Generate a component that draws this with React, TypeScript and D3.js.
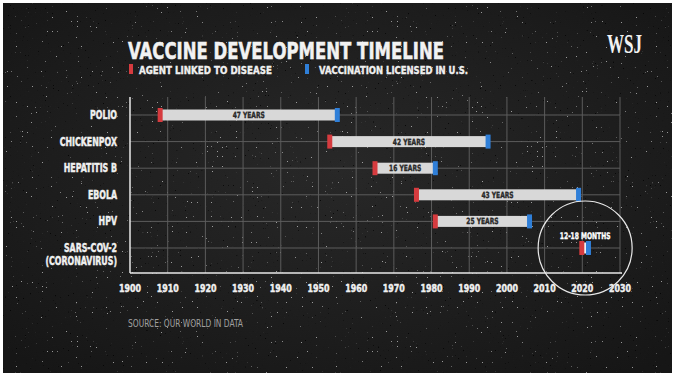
import React from "react";
import * as d3 from "d3";

const diseases = ["POLIO", "CHICKENPOX", "HEPATITIS B", "EBOLA", "HPV", "SARS-COV-2"];
const diseaseSubLabels = ["", "", "", "", "", "(CORONAVIRUS)"];
const agentYears = [1908, 1953, 1965, 1976, 1981, 2020];
const licensedYears = [1955, 1995, 1981, 2019, 2006, 2021.5];
const durationLabels = ["47 YEARS", "42 YEARS", "16 YEARS", "43 YEARS", "25 YEARS", "12-18 MONTHS"];
const tickYears = [1900, 1910, 1920, 1930, 1940, 1950, 1960, 1970, 1980, 1990, 2000, 2010, 2020, 2030];
const legendLabels = ["AGENT LINKED TO DISEASE", "VACCINATION LICENSED IN U.S."];

const W = 680;
const H = 381;
const FONT = "'Liberation Sans Narrow', 'DejaVu Sans Condensed', 'Roboto Condensed', sans-serif";
const RED = "#d63c3f";
const BLUE = "#2f7fd8";

type TProps = {
  x: number;
  y: number;
  sx?: number;
  anchor?: "start" | "middle" | "end";
  size: number;
  fill: string;
  sw?: number;
  children: React.ReactNode;
};

function T({ x, y, sx = 0.77, anchor = "start", size, fill, sw = 0.45, children }: TProps) {
  return (
    <text transform={`translate(${x},${y}) scale(${sx},1)`} textAnchor={anchor} fill={fill}
      stroke={fill} strokeWidth={sw} fontFamily={FONT} fontWeight="bold" fontSize={size}>{children}</text>
  );
}

export default function App() {
  const x = d3.scaleLinear().domain([1900, 2030]).range([130, 620]);
  const y = d3.scalePoint<string>().domain(diseases).range([115, 248]);
  const top = 97;
  const bottom = 273;
  const barH = 11;
  const capH = 14;
  const capW = 5;

  return (
    <svg width={W} height={H} style={{ position: "absolute", left: 0, top: 0 }} xmlns="http://www.w3.org/2000/svg">
      <defs>
        <radialGradient id="bg" cx="50%" cy="45%" r="70%">
          <stop offset="0%" stopColor="#282828" />
          <stop offset="100%" stopColor="#161616" />
        </radialGradient>
        <filter id="stars" x="0" y="0" width="100%" height="100%">
          <feTurbulence type="fractalNoise" baseFrequency="0.8" numOctaves={1} seed={3} result="n" />
          <feColorMatrix in="n" type="matrix" values="0 0 0 0 1  0 0 0 0 1  0 0 0 0 1  24 0 0 0 -17.6" />
        </filter>
        <filter id="darks" x="0" y="0" width="100%" height="100%">
          <feTurbulence type="fractalNoise" baseFrequency="0.6" numOctaves={1} seed={11} result="n" />
          <feColorMatrix in="n" type="matrix" values="0 0 0 0 0  0 0 0 0 0  0 0 0 0 0  0 20 0 0 -14.6" />
        </filter>
      </defs>
      <rect x={0} y={0} width={W} height={H} fill="#ffffff" />
      <rect x={3} y={3} width={669} height={370} fill="url(#bg)" />
      <rect x={3} y={3} width={669} height={370} filter="url(#stars)" opacity={0.55} />
      <rect x={3} y={3} width={669} height={370} filter="url(#darks)" opacity={0.7} />

      {/* Title */}
      <text x={128} y={59} fill="#f2f2f2" stroke="#f2f2f2" strokeWidth={0.5} fontFamily={FONT} fontWeight="bold" fontSize={23}
        textLength={316} lengthAdjust="spacingAndGlyphs">VACCINE DEVELOPMENT TIMELINE</text>
      <text x={607} y={53} fill="#f2f2f2" fontFamily="'Liberation Serif', 'DejaVu Serif', serif" fontWeight="bold" fontSize={27}
        textLength={35} lengthAdjust="spacingAndGlyphs">WSJ</text>

      {/* Legend */}
      <rect x={129} y={64} width={4} height={10} fill={RED} />
      <text x={139} y={74} fill="#f0f0f0" stroke="#f0f0f0" strokeWidth={0.35} fontFamily={FONT} fontWeight="bold" fontSize={10.5}
        textLength={133} lengthAdjust="spacingAndGlyphs">{legendLabels[0]}</text>
      <rect x={305} y={64} width={4} height={10} fill={BLUE} />
      <text x={319} y={74} fill="#f0f0f0" stroke="#f0f0f0" strokeWidth={0.35} fontFamily={FONT} fontWeight="bold" fontSize={10.5}
        textLength={149} lengthAdjust="spacingAndGlyphs">{legendLabels[1]}</text>

      {/* Grid */}
      {tickYears.slice(1).map((t) => (
        <line key={"v" + t} x1={x(t)} x2={x(t)} y1={top} y2={bottom} stroke="#5c5c5c" strokeWidth={1} />
      ))}
      {diseases.map((d) => (
        <line key={"h" + d} x1={x(1900)} x2={x(2030)} y1={y(d)} y2={y(d)} stroke="#5c5c5c" strokeWidth={1} />
      ))}
      <line x1={x(1900)} x2={x(1900)} y1={top} y2={bottom} stroke="#e8e8e8" strokeWidth={1.5} />
      <line x1={x(1900)} x2={x(2030) + 2} y1={bottom} y2={bottom} stroke="#e8e8e8" strokeWidth={1.5} />

      {/* Tick labels */}
      {tickYears.map((t) => (
        <T key={"t" + t} x={x(t)} y={292} anchor="middle" size={11} sx={0.8} fill="#f0f0f0">{t}</T>
      ))}

      {/* Y labels */}
      {diseases.map((d, i) => (
        <g key={"l" + d}>
          <T x={117} y={(y(d) as number) + 4} anchor="end" size={11.5} sx={0.76} fill="#f0f0f0">{d}</T>
          {diseaseSubLabels[i] && (
            <T x={117} y={(y(d) as number) + 17} anchor="end" size={11.5} sx={0.76} fill="#f0f0f0">{diseaseSubLabels[i]}</T>
          )}
        </g>
      ))}

      {/* Bars */}
      {diseases.map((d, i) => {
        const cy = y(d) as number;
        const x0 = x(agentYears[i]);
        const x1 = x(licensedYears[i]);
        const last = i === diseases.length - 1;
        return (
          <g key={"b" + d}>
            <rect x={x0} y={cy - barH / 2} width={x1 - x0} height={barH} fill={last ? "#f5f5f5" : "#d8d8d8"} />
            <rect x={x0 - capW / 2 - (last ? 0.5 : 0)} y={cy - capH / 2} width={capW} height={capH} fill={RED} />
            <rect x={x1 - capW / 2 + (last ? 0.5 : 0)} y={cy - capH / 2} width={capW} height={capH} fill={BLUE} />
            {last ? (
              <T x={(x0 + x1) / 2} y={cy - 9} anchor="middle" size={9} sx={0.74} fill="#ffffff" sw={0.35}>{durationLabels[i]}</T>
            ) : (
              <T x={(x0 + x1) / 2} y={cy + 3} anchor="middle" size={8.5} sx={0.78} fill="#2a2a2a" sw={0.35}>{durationLabels[i]}</T>
            )}
          </g>
        );
      })}

      {/* Highlight circle */}
      <circle cx={(x(agentYears[5]) + x(licensedYears[5])) / 2} cy={(y(diseases[5]) as number)} r={47} fill="none" stroke="#e8e8e8" strokeWidth={1.2} />

      {/* Source */}
      <text x={128} y={327} fill="#a0a0a0" fontFamily={FONT} fontSize={10.5}
        textLength={115} lengthAdjust="spacingAndGlyphs">SOURCE: OUR WORLD IN DATA</text>
    </svg>
  );
}
